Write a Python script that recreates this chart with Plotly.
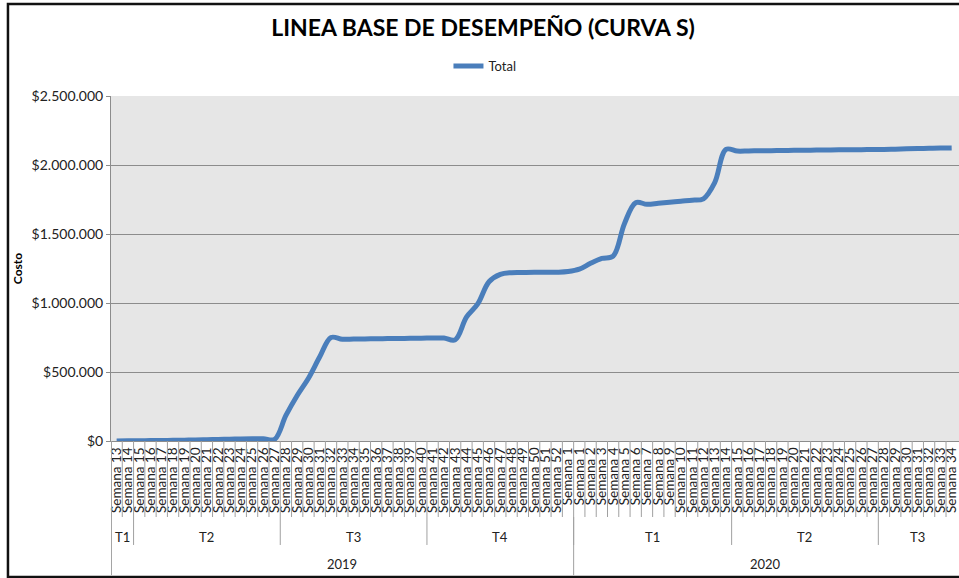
import plotly.graph_objects as go

# categorias (semanas) agrupadas por trimestre y año
semanas = [13, 14, 15, 16, 17, 18, 19, 20, 21, 22, 23, 24, 25, 26, 27, 28, 29, 30,
           31, 32, 33, 34, 35, 36, 37, 38, 39, 40, 41, 42, 43, 44, 45, 46, 47, 48,
           49, 50, 51, 52, 1,
           1, 2, 3, 4, 5, 6, 7, 8, 9, 10, 11, 12, 13, 14, 15, 16, 17, 18, 19, 20,
           21, 22, 23, 24, 25, 26, 27, 28, 29, 30, 31, 32, 33, 34]

trimestres = ["T1", "T2", "T3", "T4", "T1", "T2", "T3"]
semanas_por_trimestre = [2, 13, 13, 13, 14, 13, 7]
anios = ["2019", "2020"]
trimestres_por_anio = [4, 3]

# costo acumulado (curva S)
costo = [0, 1000, 2000, 3000, 4000, 5000, 6000, 7000, 9000, 11000, 13000, 15000,
         16000, 16000, 12000, 185000, 330000, 455000, 610000, 750000, 737000,
         739000, 740000, 741000, 742000, 743000, 744000, 745000, 746000, 746000,
         733000, 897000, 993000, 1154000, 1208000, 1220000, 1221000, 1222000,
         1222000, 1223000, 1228000,
         1245000, 1288000, 1323000, 1340000, 1575000, 1727000, 1715000, 1722000,
         1730000, 1738000, 1745000, 1755000, 1872000, 2113000, 2101000, 2102000,
         2103000, 2104000, 2105000, 2106000, 2107000, 2108000, 2109000, 2110000,
         2110000, 2111000, 2112000, 2113000, 2115000, 2117000, 2119000, 2121000,
         2123000, 2124000]

FONT = "Lato, Liberation Sans, sans-serif"
GRID = "#8c8c8c"
SEP = "#a0a0a0"

# posiciones verticales (fracciones del area de trazado) de las filas de etiquetas
Y_SEM = -0.2203
Y_TRI = -0.3014
Y_ANIO = -0.3826

x = list(range(len(costo)))

fig = go.Figure()
fig.add_trace(go.Scatter(
    x=x, y=costo, mode="lines", name="Total",
    line=dict(color="#4a7ebb", width=5, shape="spline", smoothing=1),
    showlegend=True,
))

shapes = []
# separadores de semanas
for b in range(len(costo)):
    shapes.append(dict(type="line", xref="x", yref="paper", x0=b - 0.5, x1=b - 0.5,
                       y0=0, y1=Y_SEM, line=dict(color=SEP, width=1)))

# separadores de trimestres
limites = [0]
for n in semanas_por_trimestre:
    limites.append(limites[-1] + n)
for b in limites[1:-1]:
    shapes.append(dict(type="line", xref="x", yref="paper", x0=b - 0.5, x1=b - 0.5,
                       y0=Y_SEM, y1=Y_TRI, line=dict(color=SEP, width=1)))

# separadores de años
lim_anio = [0]
k = 0
for n in trimestres_por_anio:
    k += n
    lim_anio.append(limites[k])
for b in lim_anio[:-1]:
    dx = 0.04 if b == 0 else 0
    shapes.append(dict(type="line", xref="x", yref="paper", x0=b - 0.5 + dx, x1=b - 0.5 + dx,
                       y0=0 if b == 0 else Y_SEM, y1=Y_ANIO - 0.006,
                       line=dict(color=SEP, width=1)))

# borde del grafico
shapes.append(dict(type="rect", xref="paper", yref="paper", x0=-0.1215, x1=1.02,
                   y0=-0.3942, y1=1.2667, line=dict(color="#111111", width=2.5)))

annotations = []
for i, t in enumerate(trimestres):
    centro = (limites[i] + limites[i + 1] - 1) / 2
    annotations.append(dict(x=centro, y=-0.2783, xref="x", yref="paper",
                            text=t, showarrow=False, yanchor="middle",
                            font=dict(family=FONT, size=13, color="#222222")))
for i, a in enumerate(anios):
    centro = (lim_anio[i] + lim_anio[i + 1] - 1) / 2
    annotations.append(dict(x=centro, y=-0.3565, xref="x", yref="paper",
                            text=a, showarrow=False, yanchor="middle",
                            font=dict(family=FONT, size=13, color="#222222")))

fig.update_layout(
    width=959, height=578,
    margin=dict(l=111, r=0, t=96, b=137),
    paper_bgcolor="white", plot_bgcolor="#e6e6e6",
    separators=",.",
    title=dict(text="<b>LINEA BASE DE DESEMPEÑO (CURVA S)</b>", x=0.5037, xref="container",
               xanchor="center", y=0.9516, yref="container", yanchor="middle",
               font=dict(family=FONT, size=23, color="black")),
    legend=dict(orientation="h", x=0.441, xanchor="center", y=1.087, yanchor="middle",
                font=dict(family=FONT, size=13, color="#222222"), bgcolor="rgba(0,0,0,0)"),
    shapes=shapes, annotations=annotations,
    showlegend=True,
)

fig.update_xaxes(
    range=[-0.5, 74.65], tickmode="array", tickvals=x,
    ticktext=["Semana %d" % s for s in semanas], tickangle=-90,
    tickfont=dict(family=FONT, size=13.5, color="#222222"),
    ticklabeloverflow="allow", automargin=False,
    showgrid=False, zeroline=False, showline=True, linecolor=GRID, ticks="",
)
fig.update_yaxes(
    range=[0, 2500000], dtick=500000, tickprefix="$", tickformat=",.0f",
    tickfont=dict(family=FONT, size=14, color="#222222"),
    showgrid=True, gridcolor=GRID, gridwidth=1, zeroline=False,
    showline=True, linecolor=GRID, ticks="outside", ticklen=4, tickcolor=GRID,
    title=dict(text="<b>Costo</b>", standoff=6, font=dict(family=FONT, size=12, color="black")),
)

# la pagina sin margen para que el grafico ocupe toda la ventana
fig.write_html("out.html", config={"displayModeBar": False},
               post_script="document.body.style.margin='0';document.body.style.overflow='hidden';")
